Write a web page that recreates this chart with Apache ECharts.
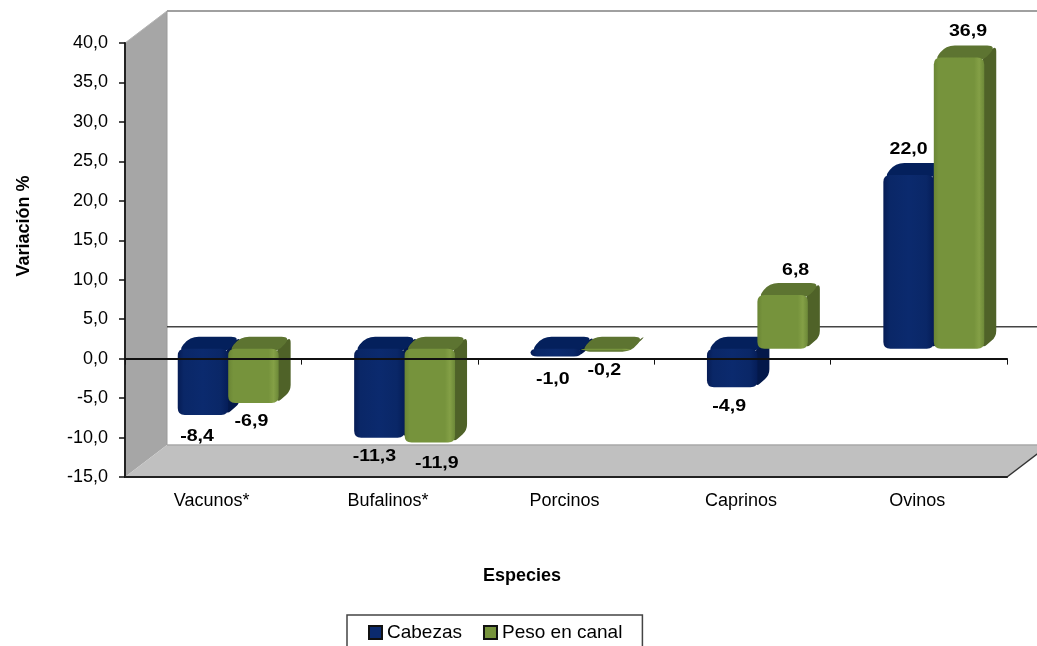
<!DOCTYPE html>
<html>
<head>
<meta charset="utf-8">
<style>html,body{margin:0;padding:0;background:#fff;overflow:hidden}#c{width:1037px;height:646px}</style>
<script src="https://cdn.jsdelivr.net/npm/echarts@6/dist/echarts.min.js"></script>
</head>
<body>
<div id="c"></div>
<script>
const categories = ['Vacunos*', 'Bufalinos*', 'Porcinos', 'Caprinos', 'Ovinos'];
const cabezas = [-8.4, -11.3, -1.0, -4.9, 22.0];
const pesoEnCanal = [-6.9, -11.9, -0.2, 6.8, 36.9];

// label nudges (dx, dy) relative to the bar end
const nudgeCabezas = [[-6, 21], [-5, 19], [-3, 23], [-3, 19], [0, -26]];
const nudgePeso = [[-2, 18], [7, 21], [-2, 20], [13, -25], [9, -26]];

const FONT = '"Liberation Sans", Arial, sans-serif';
const WALL_DX = 42, WALL_DY = -32;   // depth of the chart box
const PLANE_DX = 15, PLANE_DY = -10; // plane where bars stand
const DEPTH = 12;                    // depth of a bar
const BAR_RATIO = 0.286;

const palettes = {
  blue: {
    front: [[0, '#061c55'], [0.12, '#0a2767'], [0.5, '#0b2a6e'], [0.85, '#0a2767'], [1, '#051d58']],
    top: '#04205c', side: '#03184a'
  },
  green: {
    front: [[0, '#6a8535'], [0.1, '#76933c'], [0.8, '#76933c'], [0.9, '#84a046'], [1, '#6c8838']],
    top: '#5d7431', side: '#4f6228'
  }
};

function roundPoly(pts, r) {
  let d = '';
  const n = pts.length;
  for (let i = 0; i < n; i++) {
    const p = pts[i], a = pts[(i + n - 1) % n], b = pts[(i + 1) % n];
    const la = Math.hypot(a[0] - p[0], a[1] - p[1]) || 1;
    const lb = Math.hypot(b[0] - p[0], b[1] - p[1]) || 1;
    const ra = Math.min(r, la / 2), rb = Math.min(r, lb / 2);
    const s = [p[0] + (a[0] - p[0]) * ra / la, p[1] + (a[1] - p[1]) * ra / la];
    const e = [p[0] + (b[0] - p[0]) * rb / lb, p[1] + (b[1] - p[1]) * rb / lb];
    d += (i ? 'L' : 'M') + s[0] + ' ' + s[1] + 'Q' + p[0] + ' ' + p[1] + ' ' + e[0] + ' ' + e[1];
  }
  return d + 'Z';
}

function barRenderer(side, palette, nudges) {
  return function (params, api) {
    const i = api.value(0), v = api.value(1);
    const base = api.coord([i, 0]);
    const end = api.coord([i, v]);
    const w = api.size([1, 0])[0] * BAR_RATIO;
    const cx = base[0] + PLANE_DX;
    const x0 = side < 0 ? cx - w : cx, x1 = x0 + w;
    const yA = base[1] + PLANE_DY, yB = end[1] + PLANE_DY;
    const top = Math.min(yA, yB), bot = Math.max(yA, yB);
    const grad = new echarts.graphic.LinearGradient(0, 0, 1, 0,
      palette.front.map(s => ({ offset: s[0], color: s[1] })));
    const n = nudges[i];
    const lx = (x0 + x1) / 2 + n[0];
    const ly = (v < 0 ? bot : top) + n[1];
    return {
      type: 'group',
      children: [
        { type: 'path', shape: { pathData: roundPoly([[x1 - 2, top], [x1 + DEPTH, top - DEPTH], [x1 + DEPTH, bot - DEPTH], [x1 - 2, bot]], 6) }, style: { fill: palette.side } },
        { type: 'path', shape: { pathData: roundPoly([[x0, top + 3], [x0 + DEPTH, top - DEPTH], [x1 + DEPTH, top - DEPTH], [x1, top + 3]], 9) }, style: { fill: palette.top } },
        { type: 'path', shape: { pathData: roundPoly([[x0, top], [x1, top], [x1, bot], [x0, bot]], 7) }, style: { fill: grad } },
        { type: 'text', x: lx, y: ly, scaleX: 1.15, style: {
            text: v.toFixed(1).replace('.', ','), x: 0, y: 0, align: 'center', verticalAlign: 'middle',
            font: 'bold 17px ' + FONT, fill: '#000'
          }, z2: 50 }
      ]
    };
  };
}

function frameRenderer(params, api) {
  const cs = params.coordSys;
  const tl = [cs.x, cs.y];
  const bl = [cs.x, cs.y + cs.height];
  const br = [cs.x + cs.width, cs.y + cs.height];
  const zero = api.coord([0, 0]);
  const wx = tl[0] + WALL_DX;
  const topY = tl[1] + WALL_DY, floorY = bl[1] + WALL_DY, zeroY = zero[1] + WALL_DY;
  const rx = br[0] + WALL_DX;
  return {
    type: 'group',
    children: [
      { type: 'polygon', shape: { points: [[tl[0], tl[1]], [wx, topY], [wx, floorY], [bl[0], bl[1]]] }, style: { fill: '#a6a6a6' } },
      { type: 'polygon', shape: { points: [[bl[0], bl[1]], [wx, floorY], [rx, floorY], [br[0], br[1]]] }, style: { fill: '#c0c0c0' } },
      { type: 'line', shape: { x1: tl[0], y1: tl[1], x2: wx, y2: topY }, style: { stroke: '#b5b5b5', lineWidth: 1 } },
      { type: 'line', shape: { x1: wx, y1: topY, x2: rx, y2: topY }, style: { stroke: '#a0a0a0', lineWidth: 2 } },
      { type: 'line', shape: { x1: wx, y1: topY, x2: wx, y2: floorY }, style: { stroke: '#9a9a9a', lineWidth: 1 } },
      { type: 'line', shape: { x1: wx, y1: floorY, x2: rx, y2: floorY }, style: { stroke: '#a8a8a8', lineWidth: 1.5 } },
      { type: 'line', shape: { x1: wx, y1: zeroY, x2: rx, y2: zeroY }, style: { stroke: '#444', lineWidth: 1.5 } },
      { type: 'line', shape: { x1: br[0], y1: br[1], x2: rx, y2: floorY }, style: { stroke: '#333', lineWidth: 1.5 } }
    ]
  };
}

const chart = echarts.init(document.getElementById('c'), null, { renderer: 'canvas' });
chart.setOption({
  animation: false,
  backgroundColor: '#fff',
  grid: { left: 125, right: 30, top: 43, bottom: 169, containLabel: false },
  legend: {
    left: 347, top: 615,
    padding: [8, 20, 30, 21],
    data: [{ name: 'Cabezas', icon: 'rect' }, { name: 'Peso en canal', icon: 'rect' }],
    itemWidth: 13, itemHeight: 13, itemGap: 21,
    itemStyle: { borderColor: '#111', borderWidth: 2 },
    textStyle: { fontFamily: FONT, fontSize: 19, color: '#000' },
    borderColor: '#444', borderWidth: 1.5, backgroundColor: '#fff', selectedMode: false
  },
  xAxis: [
    {
      type: 'category', data: categories, z: 5,
      axisLine: { onZero: true, lineStyle: { color: '#111', width: 2 } },
      axisTick: { show: true, length: 6, alignWithLabel: false, lineStyle: { color: '#111', width: 1 } },
      axisLabel: { show: false }
    },
    {
      type: 'category', data: categories, position: 'bottom', z: 5,
      axisLine: { onZero: false, lineStyle: { color: '#222', width: 2 } },
      axisTick: { show: false },
      axisLabel: { fontFamily: FONT, fontSize: 18, color: '#000', margin: 15, padding: [0, 3, 0, 0] },
      name: 'Especies', nameLocation: 'middle', nameGap: 90,
      nameTextStyle: { fontFamily: FONT, fontSize: 18, fontWeight: 'bold', color: '#000', padding: [0, 88, 0, 0] }
    }
  ],
  yAxis: {
    type: 'value', min: -15, max: 40, interval: 5, z: 5,
    axisLine: { show: true, onZero: false, lineStyle: { color: '#222', width: 2 } },
    axisTick: { show: true, length: 6, lineStyle: { color: '#111', width: 1.5 } },
    splitLine: { show: false },
    axisLabel: { fontFamily: FONT, fontSize: 18, color: '#000', margin: 17, padding: [5, 0, 0, 0], formatter: v => v.toFixed(1).replace('.', ',') },
    name: 'Variación %', nameLocation: 'middle', nameGap: 92, nameRotate: 90,
    nameTextStyle: { fontFamily: FONT, fontSize: 18, fontWeight: 'bold', color: '#000', padding: [0, 0, 0, 68] }
  },
  series: [
    { name: 'frame', type: 'custom', z: -1, silent: true, renderItem: frameRenderer, data: [[0, 0]], encode: { x: 0, y: 1 }, clip: false },
    { name: 'Cabezas', type: 'custom', z: 2, itemStyle: { color: '#0b2a6e' }, renderItem: barRenderer(-1, palettes.blue, nudgeCabezas),
      data: cabezas.map((v, i) => [i, v]), encode: { x: 0, y: 1 }, clip: false },
    { name: 'Peso en canal', type: 'custom', z: 3, itemStyle: { color: '#76933c' }, renderItem: barRenderer(1, palettes.green, nudgePeso),
      data: pesoEnCanal.map((v, i) => [i, v]), encode: { x: 0, y: 1 }, clip: false }
  ]
});
</script>
</body>
</html>
